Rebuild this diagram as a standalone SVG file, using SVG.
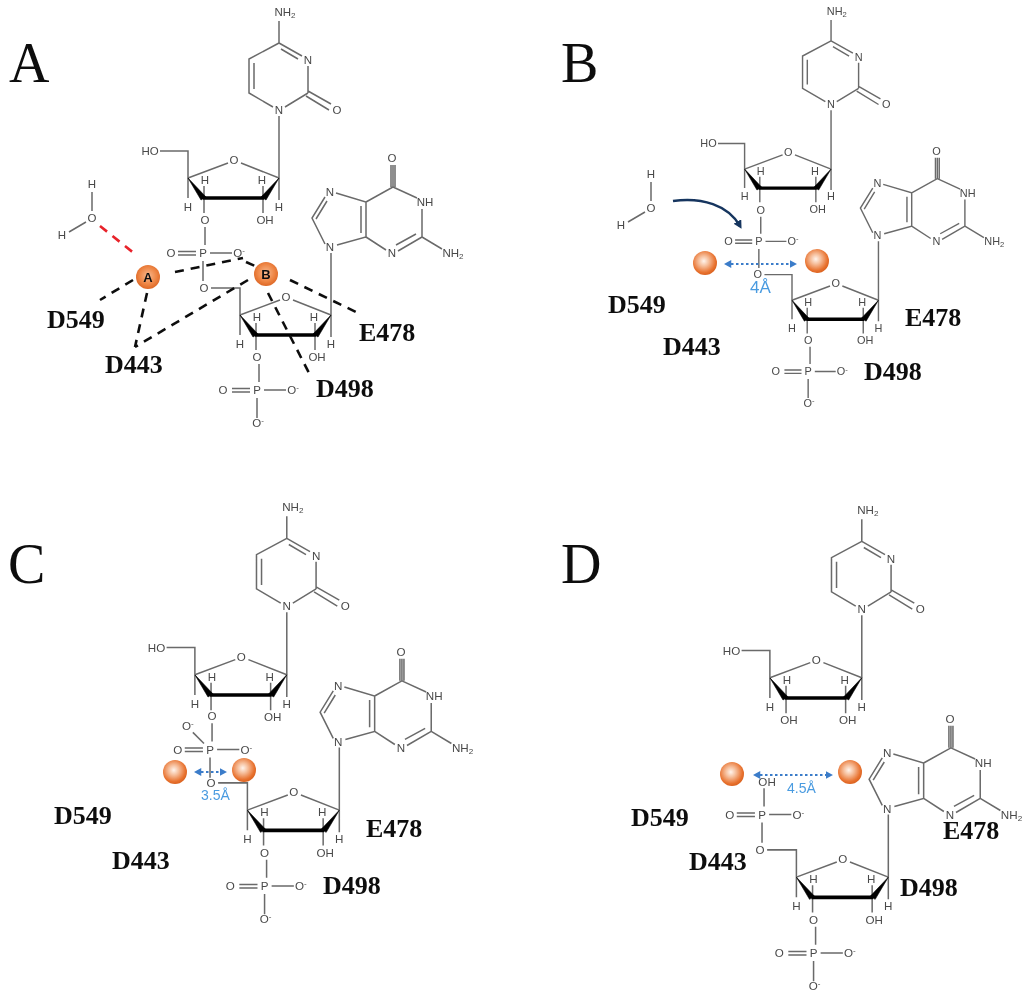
<svg xmlns="http://www.w3.org/2000/svg" xmlns:xlink="http://www.w3.org/1999/xlink" width="1022" height="1000" viewBox="0 0 1022 1000">
<style>
.b{fill:none;stroke:#6a6a6a;stroke-width:1.5}
.w{fill:#000;stroke:#000;stroke-width:.6}
.k{fill:none;stroke:#000;stroke-width:3.6}
text.l{font-family:"Liberation Sans",Arial,sans-serif;font-size:11.5px;fill:#484848;text-anchor:middle}
.s{font-size:8px}
text.r{font-family:"Liberation Serif","Times New Roman",serif;font-size:26px;font-weight:bold;fill:#111}
text.p{font-family:"Liberation Serif","Times New Roman",serif;font-size:56px;fill:#111}
text.m{font-family:"Liberation Sans",Arial,sans-serif;font-size:13px;font-weight:bold;fill:#111;text-anchor:middle}
text.d{font-family:"Liberation Sans",Arial,sans-serif;fill:#4a9be0;font-size:14px}
.dash{fill:none;stroke:#111;stroke-width:2.6;stroke-dasharray:9 7}
.red{fill:none;stroke:#e8232a;stroke-width:2.6;stroke-dasharray:9 7}
.dist{fill:none;stroke:#3a7cc9;stroke-width:2.2;stroke-dasharray:2.5 2.5;marker-start:url(#blueS);marker-end:url(#blueE)}
.attack{fill:none;stroke:#17365f;stroke-width:2.6;marker-end:url(#navy)}
</style>
<defs>
<radialGradient id="ball" cx=".45" cy=".42" r=".6"><stop offset="0" stop-color="#fff4ec"/><stop offset=".35" stop-color="#f6bf9c"/><stop offset=".8" stop-color="#e8722f"/><stop offset="1" stop-color="#d9601e"/></radialGradient>
<radialGradient id="ball2" cx=".5" cy=".45" r=".6"><stop offset="0" stop-color="#f8b98f"/><stop offset=".6" stop-color="#ee8544"/><stop offset="1" stop-color="#d9601e"/></radialGradient>
<marker id="blueE" markerWidth="4" markerHeight="4" refX="2.5" refY="1.8" orient="auto" markerUnits="strokeWidth"><path d="M0 0L3.4 1.8L0 3.6Z" fill="#3a7cc9"/></marker>
<marker id="blueS" markerWidth="4" markerHeight="4" refX="1" refY="1.8" orient="auto" markerUnits="strokeWidth"><path d="M3.4 0L0 1.8L3.4 3.6Z" fill="#3a7cc9"/></marker>
<marker id="navy" markerWidth="4" markerHeight="4" refX="2" refY="1.7" orient="auto" markerUnits="strokeWidth"><path d="M0 0L3.2 1.7L0 3.4Z" fill="#17365f"/></marker>
<filter id="soft" x="-2%" y="-2%" width="104%" height="104%"><feGaussianBlur stdDeviation="0.6"/></filter>
<g id="cyt"><path class="b" d="M279 43V21M279 43L302 56M281 49L298 59M308 66V93M308 93L285 107M308 91L331 104M306 96L329 110M273 107L249 93V59L279 43M254 89V63M279 116V178"/></g>
<g id="sug"><path class="b" d="M188 178L228 163M241 163L279 178M204 198V186M263 198V186M204 198V213M263 198V213M279 178V200M188 178V198"/><path class="w" d="M188 178L201 200L206 197ZM279 178L261 197L266 200Z"/><path class="k" d="M203 198H264"/></g>
<g id="ch2"><path class="b" d="M188 178V151H160"/></g>
<g id="phos"><path class="b" d="M205 227V245M178 251.500H196M178 255H196M210 253H232M203 261V281"/></g>
<g id="link"><path class="b" d="M211 288H240V315"/></g>
<g id="gua"><path class="b" d="M331 253V315M325 244L312 218L325 197M316 219L327 201M336 193L366 202V237L337 245M361 206V233M366 202L393 187V165M366 237L386 250M398 251L422 237M396 245L416 234M422 237V209M417 198L393 187M391 187V165M395 187V165M422 237L442 249"/></g>
</defs>
<rect width="1022" height="1000" fill="#fff"/>
<g filter="url(#soft)">
<g id="panel-letters">
<text class="p" x="9" y="82">A</text><text class="p" x="561" y="82">B</text><text class="p" x="8" y="583">C</text><text class="p" x="561" y="583">D</text>
</g>

<g id="A-upper">
<use href="#cyt"/><use href="#sug"/><use href="#ch2"/>
<text class="l" x="285" y="16">NH<tspan class="s" dy="2">2</tspan></text><text class="l" x="308" y="64">N</text><text class="l" x="337" y="114">O</text><text class="l" x="279" y="114">N</text>
<text class="l" x="150" y="155">HO</text><text class="l" x="234" y="164">O</text><text class="l" x="205" y="184">H</text><text class="l" x="262" y="184">H</text><text class="l" x="188" y="211">H</text><text class="l" x="279" y="211">H</text><text class="l" x="265" y="224">OH</text>
</g>
<g id="A-phosphate">
<use href="#phos"/>
<text class="l" x="205" y="224">O</text><text class="l" x="171" y="257">O</text><text class="l" x="203" y="257">P</text><text class="l" x="239" y="257">O<tspan class="s" dy="-4">-</tspan></text>
</g>
<g id="A-lower">
<use href="#link"/><use href="#gua"/><g transform="translate(52 137)"><use href="#sug"/></g><g transform="translate(54 137)"><use href="#phos"/></g>
<text class="l" x="204" y="292">O</text><text class="l" x="286" y="301">O</text><text class="l" x="257" y="321">H</text><text class="l" x="314" y="321">H</text><text class="l" x="240" y="348">H</text><text class="l" x="331" y="348">H</text><text class="l" x="317" y="361">OH</text><text class="l" x="257" y="361">O</text><text class="l" x="223" y="394">O</text><text class="l" x="257" y="394">P</text><text class="l" x="293" y="394">O<tspan class="s" dy="-4">-</tspan></text><text class="l" x="258" y="427">O<tspan class="s" dy="-4">-</tspan></text>
<text class="l" x="330" y="196">N</text><text class="l" x="330" y="251">N</text><text class="l" x="392" y="257">N</text><text class="l" x="425" y="206">NH</text><text class="l" x="392" y="162">O</text><text class="l" x="453" y="257">NH<tspan class="s" dy="2">2</tspan></text>
</g>
<g id="A-water"><path class="b" d="M92 192V211M86 222L69 232"/><text class="l" x="92" y="188">H</text><text class="l" x="92" y="222">O</text><text class="l" x="62" y="239">H</text></g>

<g id="B-upper" transform="translate(566 0) scale(.95)">
<use href="#cyt"/><use href="#sug"/><use href="#ch2"/>
<text class="l" x="285" y="16">NH<tspan class="s" dy="2">2</tspan></text><text class="l" x="308" y="64">N</text><text class="l" x="337" y="114">O</text><text class="l" x="279" y="114">N</text>
<text class="l" x="150" y="155">HO</text><text class="l" x="234" y="164">O</text><text class="l" x="205" y="184">H</text><text class="l" x="262" y="184">H</text><text class="l" x="188" y="211">H</text><text class="l" x="279" y="211">H</text><text class="l" x="265" y="224">OH</text>
</g>
<g id="B-phosphate" transform="translate(566 1) scale(.95)">
<use href="#phos"/>
<text class="l" x="205" y="224">O</text><text class="l" x="171" y="257">O</text><text class="l" x="203" y="257">P</text><text class="l" x="239" y="257">O<tspan class="s" dy="-4">-</tspan></text>
</g>
<g id="B-lower" transform="translate(564 1) scale(.95)">
<use href="#link"/><use href="#gua"/><g transform="translate(52 137)"><use href="#sug"/></g><g transform="translate(54 137)"><use href="#phos"/></g>
<text class="l" x="204" y="292">O</text><text class="l" x="286" y="301">O</text><text class="l" x="257" y="321">H</text><text class="l" x="314" y="321">H</text><text class="l" x="240" y="348">H</text><text class="l" x="331" y="348">H</text><text class="l" x="317" y="361">OH</text><text class="l" x="257" y="361">O</text><text class="l" x="223" y="394">O</text><text class="l" x="257" y="394">P</text><text class="l" x="293" y="394">O<tspan class="s" dy="-4">-</tspan></text><text class="l" x="258" y="427">O<tspan class="s" dy="-4">-</tspan></text>
<text class="l" x="330" y="196">N</text><text class="l" x="330" y="251">N</text><text class="l" x="392" y="257">N</text><text class="l" x="425" y="206">NH</text><text class="l" x="392" y="162">O</text><text class="l" x="453" y="257">NH<tspan class="s" dy="2">2</tspan></text>
</g>
<g id="B-water" transform="translate(559 -10)"><path class="b" d="M92 192V211M86 222L69 232"/><text class="l" x="92" y="188">H</text><text class="l" x="92" y="222">O</text><text class="l" x="62" y="239">H</text></g>

<g id="C-upper" transform="translate(5 495) scale(1.01)">
<use href="#cyt"/><use href="#sug"/><use href="#ch2"/>
<text class="l" x="285" y="16">NH<tspan class="s" dy="2">2</tspan></text><text class="l" x="308" y="64">N</text><text class="l" x="337" y="114">O</text><text class="l" x="279" y="114">N</text>
<text class="l" x="150" y="155">HO</text><text class="l" x="234" y="164">O</text><text class="l" x="205" y="184">H</text><text class="l" x="262" y="184">H</text><text class="l" x="188" y="211">H</text><text class="l" x="279" y="211">H</text><text class="l" x="265" y="224">OH</text>
</g>
<g id="C-phosphate" transform="translate(5 494) scale(1.01)">
<use href="#phos"/><path class="b" d="M186 236L197 247"/>
<text class="l" x="205" y="224">O</text><text class="l" x="181" y="234">O<tspan class="s" dy="-4">-</tspan></text><text class="l" x="171" y="257">O</text><text class="l" x="203" y="257">P</text><text class="l" x="239" y="257">O<tspan class="s" dy="-4">-</tspan></text>
</g>
<g id="C-lower" transform="translate(5 492) scale(1.01)">
<use href="#link"/><use href="#gua"/><g transform="translate(52 137)"><use href="#sug"/></g><g transform="translate(54 137)"><use href="#phos"/></g>
<text class="l" x="204" y="292">O</text><text class="l" x="286" y="301">O</text><text class="l" x="257" y="321">H</text><text class="l" x="314" y="321">H</text><text class="l" x="240" y="348">H</text><text class="l" x="331" y="348">H</text><text class="l" x="317" y="361">OH</text><text class="l" x="257" y="361">O</text><text class="l" x="223" y="394">O</text><text class="l" x="257" y="394">P</text><text class="l" x="293" y="394">O<tspan class="s" dy="-4">-</tspan></text><text class="l" x="258" y="427">O<tspan class="s" dy="-4">-</tspan></text>
<text class="l" x="330" y="196">N</text><text class="l" x="330" y="251">N</text><text class="l" x="392" y="257">N</text><text class="l" x="425" y="206">NH</text><text class="l" x="392" y="162">O</text><text class="l" x="453" y="257">NH<tspan class="s" dy="2">2</tspan></text>
</g>

<g id="D-upper" transform="translate(580 498) scale(1.01)">
<use href="#cyt"/><use href="#sug"/><use href="#ch2"/>
<text class="l" x="285" y="16">NH<tspan class="s" dy="2">2</tspan></text><text class="l" x="308" y="64">N</text><text class="l" x="337" y="114">O</text><text class="l" x="279" y="114">N</text>
<text class="l" x="150" y="155">HO</text><text class="l" x="234" y="164">O</text><text class="l" x="205" y="184">H</text><text class="l" x="262" y="184">H</text><text class="l" x="188" y="211">H</text><text class="l" x="279" y="211">H</text><text class="l" x="265" y="224">OH</text><text class="l" x="207" y="224">OH</text>
</g>
<g id="D-phosphate" transform="translate(557 559) scale(1.01)">
<use href="#phos"/>
<text class="l" x="208" y="225">OH</text><text class="l" x="171" y="257">O</text><text class="l" x="203" y="257">P</text><text class="l" x="239" y="257">O<tspan class="s" dy="-4">-</tspan></text>
</g>
<g id="D-lower" transform="translate(554 559) scale(1.01)">
<use href="#link"/><use href="#gua"/><g transform="translate(52 137)"><use href="#sug"/></g><g transform="translate(54 137)"><use href="#phos"/></g>
<text class="l" x="204" y="292">O</text><text class="l" x="286" y="301">O</text><text class="l" x="257" y="321">H</text><text class="l" x="314" y="321">H</text><text class="l" x="240" y="348">H</text><text class="l" x="331" y="348">H</text><text class="l" x="317" y="361">OH</text><text class="l" x="257" y="361">O</text><text class="l" x="223" y="394">O</text><text class="l" x="257" y="394">P</text><text class="l" x="293" y="394">O<tspan class="s" dy="-4">-</tspan></text><text class="l" x="258" y="427">O<tspan class="s" dy="-4">-</tspan></text>
<text class="l" x="330" y="196">N</text><text class="l" x="330" y="251">N</text><text class="l" x="392" y="257">N</text><text class="l" x="425" y="206">NH</text><text class="l" x="392" y="162">O</text><text class="l" x="453" y="257">NH<tspan class="s" dy="2">2</tspan></text>
</g>

<g id="connectors">
<path class="red" d="M100 226L135 254"/>
<path class="dash" d="M133 280L100 300"/>
<path class="dash" d="M147 293L135 347"/>
<path class="dash" d="M248 280L135 347"/>
<path class="dash" d="M175 272L243 258"/>
<path class="dash" d="M246 262L255 266"/>
<path class="dash" d="M290 280L358 313"/>
<path class="dash" d="M268 293L310 375"/>
<path class="attack" d="M673 201C702 197 728 205 740 226"/>
<path class="dist" d="M726 264H795"/>
<path class="dist" d="M196 772H225"/>
<path class="dist" d="M755 775H831"/>
</g>

<g id="A-metal-A"><circle cx="148" cy="277" r="12" fill="url(#ball2)"/><text class="m" x="148" y="282">A</text></g>
<g id="A-metal-B"><circle cx="266" cy="274" r="12" fill="url(#ball2)"/><text class="m" x="266" y="279">B</text></g>
<g id="B-metal-1"><circle cx="705" cy="263" r="12" fill="url(#ball)"/></g>
<g id="B-metal-2"><circle cx="817" cy="261" r="12" fill="url(#ball)"/></g>
<g id="C-metal-1"><circle cx="175" cy="772" r="12" fill="url(#ball)"/></g>
<g id="C-metal-2"><circle cx="244" cy="770" r="12" fill="url(#ball)"/></g>
<g id="D-metal-1"><circle cx="732" cy="774" r="12" fill="url(#ball)"/></g>
<g id="D-metal-2"><circle cx="850" cy="772" r="12" fill="url(#ball)"/></g>

<g id="distance-labels">
<text class="d" x="750" y="293" style="font-size:17px">4Å</text>
<text class="d" x="201" y="800">3.5Å</text>
<text class="d" x="787" y="793">4.5Å</text>
</g>
<g id="residue-labels">
<text class="r" x="47" y="328">D549</text><text class="r" x="105" y="373">D443</text><text class="r" x="359" y="341">E478</text><text class="r" x="316" y="397">D498</text>
<text class="r" x="608" y="313">D549</text><text class="r" x="663" y="355">D443</text><text class="r" x="905" y="326">E478</text><text class="r" x="864" y="380">D498</text>
<text class="r" x="54" y="824">D549</text><text class="r" x="112" y="869">D443</text><text class="r" x="366" y="837">E478</text><text class="r" x="323" y="894">D498</text>
<text class="r" x="631" y="826">D549</text><text class="r" x="689" y="870">D443</text><text class="r" x="943" y="839">E478</text><text class="r" x="900" y="896">D498</text>
</g>
</g>
</svg>
